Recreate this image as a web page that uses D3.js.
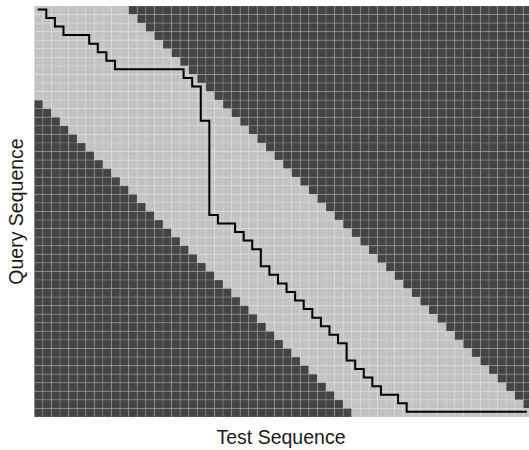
<!DOCTYPE html>
<html>
<head>
<meta charset="utf-8">
<script src="https://cdn.jsdelivr.net/npm/d3@7"></script>
<style>
  body { margin: 0; background: #ffffff; }
  svg text { font-family: "Liberation Sans", Arial, sans-serif; fill: #1a1a1a; }
</style>
</head>
<body>
<svg id="dtw_svg" width="529" height="450"></svg>
<script>
// grid size of the cost matrix (test = columns, query = rows)
var testLength = 58;
var queryLength = 48;
// Sakoe-Chiba window half width, in cells
var windowSize = 10;
// warping path as step corners: [test index, query index]
var pathTest  = [0, 1, 2, 3, 6, 7, 8, 9, 17, 18, 19, 20, 21, 23, 24, 25, 26, 27, 28, 29, 30, 31, 32, 33, 34, 35, 36, 37, 38, 39, 40, 42, 43, 57];
var pathQuery = [0, 1, 2, 3, 4, 5, 6, 7,  8,  9, 13, 24, 25, 26, 27, 28, 30, 31, 32, 33, 34, 35, 36, 37, 38, 39, 41, 42, 43, 44, 45, 46, 47, 47];

(function () {
    var svg = d3.select("svg#dtw_svg");
    var left = 34.3, top = 6, cellW = 8.58, cellH = 8.5625;

    var x = d3.scaleBand().domain(d3.range(testLength))
        .range([left, left + testLength * cellW]).padding(0);
    var y = d3.scaleBand().domain(d3.range(queryLength))
        .range([top, top + queryLength * cellH]).padding(0);

    var cells = [];
    d3.range(queryLength).forEach(function (i) {
        d3.range(testLength).forEach(function (j) {
            cells.push({i: i, j: j, inside: Math.abs(i - j) <= windowSize});
        });
    });

    svg.append("g").selectAll("rect").data(cells).enter().append("rect")
        .attr("x", d => x(d.j)).attr("y", d => y(d.i))
        .attr("width", x.bandwidth()).attr("height", y.bandwidth())
        .attr("fill", d => d.inside ? "#c3c3c3" : "#444444")
        .attr("stroke", "#ffffff").attr("stroke-opacity", 0.15)
        .attr("stroke-width", 1);

    // the path passes slightly above-left of the cell centres in the original
    var px = j => x(j) + 0.4 * x.bandwidth(),
        py = i => y(i) + 0.4 * y.bandwidth();
    var pts = pathTest.map((j, k) => [px(j), py(pathQuery[k])]);
    svg.append("path")
        .attr("d", d3.line().curve(d3.curveStepAfter)(pts))
        .attr("fill", "none").attr("stroke", "#000000")
        .attr("stroke-width", 2);

    svg.append("text").attr("x", 281).attr("y", 444)
        .attr("text-anchor", "middle").attr("font-size", 19.5)
        .text("Test Sequence");
    svg.append("text")
        .attr("transform", "translate(23," + (top + queryLength * cellH / 2) + ") rotate(-90)")
        .attr("text-anchor", "middle").attr("font-size", 19.5)
        .text("Query Sequence");
})();
</script>
</body>
</html>
